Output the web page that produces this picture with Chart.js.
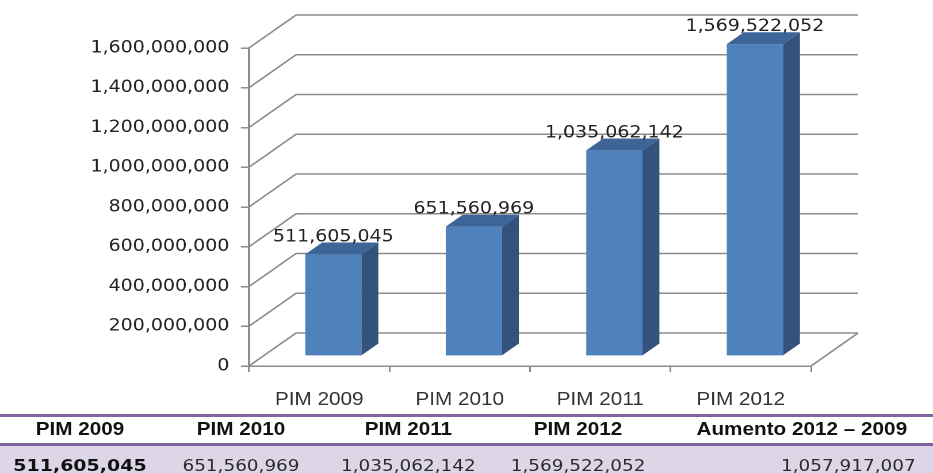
<!DOCTYPE html>
<html>
<head>
<meta charset="utf-8">
<script src="https://cdn.jsdelivr.net/npm/chart.js@4.4.0/dist/chart.umd.min.js"></script>
<style>
  html, body { margin: 0; padding: 0; background: #fff; overflow: hidden; }
  /* the whole sheet is drawn slightly wide */
  #page { position: relative; width: 811px; height: 473px; transform: scaleX(1.1504); transform-origin: 0 0; }
  #chartBox { position: absolute; left: 0; top: 0; width: 811px; height: 412px; }
  .rule { position: absolute; left: 0; width: 811px; height: 3px; background: #8064a2; }
  .row { position: absolute; left: 0; width: 811px; display: flex; }
  .row div { box-sizing: border-box; white-space: nowrap; text-align: center; }
  #head { top: 417px; height: 26px; line-height: 26px; padding-top: 2px; box-sizing: border-box;
          font: bold 18px "Liberation Sans", Arial, sans-serif; color: #111; }
  #vals { top: 446px; height: 27px; background: #dcd6e7; font: 16px "DejaVu Sans", Verdana, sans-serif;
          color: #2a2a2a; line-height: 27px; padding-top: 6px; box-sizing: border-box; }
  #vals div:first-child { font-weight: bold; font-size: 16.5px; color: #111; }
  #head div:last-child { padding-left: 8px; }
  #vals div:last-child { text-align: right; padding-right: 15px; }
</style>
</head>
<body>
<div id="page">
  <div id="chartBox"><canvas id="pimChart" width="811" height="412"></canvas></div>
  <div class="rule" style="top:414px"></div>
  <div class="row" id="head"></div>
  <div class="rule" style="top:443px"></div>
  <div class="row" id="vals"></div>
</div>
<script>
const categories = ['PIM 2009', 'PIM 2010', 'PIM 2011', 'PIM 2012'];
const pimValues = [511605045, 651560969, 1035062142, 1569522052];
const yTicks = [0, 200000000, 400000000, 600000000, 800000000, 1000000000, 1200000000, 1400000000, 1600000000];
const tableHeaders = ['PIM 2009', 'PIM 2010', 'PIM 2011', 'PIM 2012', 'Aumento 2012 – 2009'];
const colWidths = [139, 141, 150, 145, 236];

const fmt = v => v.toLocaleString('en-US');

// table under the chart
const increase = pimValues[pimValues.length - 1] - pimValues[0];
const tableValues = pimValues.map(fmt).concat([fmt(increase)]);
const head = document.getElementById('head');
const vals = document.getElementById('vals');
tableHeaders.forEach((h, i) => {
  const c = document.createElement('div');
  c.style.width = colWidths[i] + 'px';
  c.textContent = h;
  head.appendChild(c);
  const v = document.createElement('div');
  v.style.width = colWidths[i] + 'px';
  v.textContent = tableValues[i];
  vals.appendChild(v);
});

// fake 3d: walls go back by WALL, bars sit part way in
const WALL = { dx: 40.9, dy: -33 };
const BAR_SHIFT = 0.3;
const BAR_DEPTH = 0.36;
const gridColor = '#8c8c8c';

const box3d = {
  id: 'box3d',
  beforeDatasetsDraw(chart) {
    const { ctx, chartArea: a, scales: { y } } = chart;
    ctx.save();
    ctx.strokeStyle = gridColor;
    ctx.lineWidth = 1.5;
    ctx.beginPath();
    yTicks.forEach(v => {
      const py = y.getPixelForValue(v);
      ctx.moveTo(a.left, py);
      ctx.lineTo(a.left + WALL.dx, py + WALL.dy);
      ctx.lineTo(a.right + WALL.dx, py + WALL.dy);
    });
    ctx.moveTo(a.right, a.bottom);
    ctx.lineTo(a.right + WALL.dx, a.bottom + WALL.dy);
    ctx.stroke();
    ctx.restore();
    ctx.save();
    ctx.translate(WALL.dx * BAR_SHIFT, WALL.dy * BAR_SHIFT);
  },
  afterDatasetsDraw(chart) {
    const ctx = chart.ctx;
    ctx.restore();
    const sx = WALL.dx * BAR_SHIFT, sy = WALL.dy * BAR_SHIFT;
    const dx = WALL.dx * BAR_DEPTH, dy = WALL.dy * BAR_DEPTH;
    const meta = chart.getDatasetMeta(0);
    ctx.save();
    meta.data.forEach((bar, i) => {
      const { x, y, base, width } = bar.getProps(['x', 'y', 'base', 'width'], true);
      const l = x - width / 2 + sx, r = x + width / 2 + sx;
      const t = y + sy, b = base + sy;
      ctx.fillStyle = '#33537d';
      ctx.beginPath();
      ctx.moveTo(r, t); ctx.lineTo(r + dx, t + dy); ctx.lineTo(r + dx, b + dy); ctx.lineTo(r, b);
      ctx.closePath(); ctx.fill();
      ctx.fillStyle = '#3d6597';
      ctx.beginPath();
      ctx.moveTo(l, t); ctx.lineTo(l + dx, t + dy); ctx.lineTo(r + dx, t + dy); ctx.lineTo(r, t);
      ctx.closePath(); ctx.fill();
      ctx.fillStyle = '#222';
      ctx.font = '16.5px "DejaVu Sans", Verdana, sans-serif';
      ctx.textAlign = 'center';
      ctx.textBaseline = 'alphabetic';
      ctx.fillText(fmt(pimValues[i]), x + sx, t - 13);
    });
    ctx.restore();
  }
};

new Chart(document.getElementById('pimChart'), {
  type: 'bar',
  data: {
    labels: categories,
    datasets: [{
      data: pimValues,
      backgroundColor: '#4f81bd',
      borderWidth: 0,
      barPercentage: 0.4,
      categoryPercentage: 1.0,
      clip: false
    }]
  },
  options: {
    responsive: false,
    devicePixelRatio: 2,
    animation: false,
    layout: { padding: { top: 48, right: 106, left: 0, bottom: 0 } },
    plugins: { legend: { display: false }, tooltip: { enabled: false } },
    scales: {
      x: {
        grid: { display: true, drawOnChartArea: false, drawTicks: true, tickLength: 6, offset: true,
                color: gridColor, lineWidth: 1.5 },
        border: { display: true, color: gridColor, width: 1.5 },
        ticks: { color: '#333', padding: 17, font: { family: '"Liberation Sans", Arial, sans-serif', size: 18 } },
        afterFit: s => { s.height = 46; }
      },
      y: {
        min: 0,
        max: 1600000000,
        grid: { drawOnChartArea: false, drawTicks: true, tickLength: 7, color: gridColor, lineWidth: 1.5 },
        border: { display: true, color: gridColor, width: 2 },
        ticks: { color: '#222', padding: 10, callback: v => fmt(v),
                 font: { family: '"DejaVu Sans", Verdana, sans-serif', size: 16.5 } },
        afterBuildTicks: s => { s.ticks = yTicks.map(v => ({ value: v })); },
        afterFit: s => { s.width = 216.4; }
      }
    }
  },
  plugins: [box3d]
});
</script>
</body>
</html>
